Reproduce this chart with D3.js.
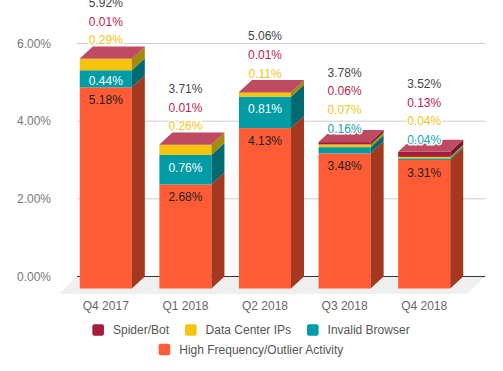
<!DOCTYPE html>
<html>
<head>
<meta charset="utf-8">
<script src="https://cdn.jsdelivr.net/npm/d3@7"></script>
<style>
  body { margin: 0; background: #fff; }
  text { font-family: "Liberation Sans", Arial, sans-serif; font-size: 12px; }
</style>
</head>
<body>
<div id="chart"></div>
<script>
let quarters       = ["Q4 2017", "Q1 2018", "Q2 2018", "Q3 2018", "Q4 2018"];
let highFrequency  = [5.18, 2.68, 4.13, 3.48, 3.31];   //spodní segment
let invalidBrowser = [0.44, 0.76, 0.81, 0.16, 0.04];
let dataCenter     = [0.29, 0.26, 0.11, 0.07, 0.04];
let spiderBot      = [0.01, 0.01, 0.01, 0.06, 0.13];   //horní segment
let totals         = [5.92, 3.71, 5.06, 3.78, 3.52];
let yTicks         = [0, 2, 4, 6];
let seriesNames    = ["High Frequency/Outlier Activity", "Invalid Browser", "Data Center IPs", "Spider/Bot"];
let legendRows     = [["Spider/Bot", "Data Center IPs", "Invalid Browser"], ["High Frequency/Outlier Activity"]];

//barvy: přední strana, bok, vrch, text popisku
let styles = {
  "High Frequency/Outlier Activity": { front: "#ff5c35", side: "#a5391f", top: "#ff8a6b", label: "#222" },
  "Invalid Browser":                 { front: "#009ca6", side: "#006a70", top: "#3fb9c1", label: "#16a3b1" },
  "Data Center IPs":                 { front: "#f5c40b", side: "#a68a0c", top: "#f8d54a", label: "#f5c518" },
  "Spider/Bot":                      { front: "#a61c3c", side: "#751430", top: "#bf4a62", label: "#bb2448" }
};

const width = 503, height = 371;
const dx = 13, dy = 12;          //hloubka 3D efektu
const gap = 18.7;                //rozestup popisků nad sloupcem

let series = [highFrequency, invalidBrowser, dataCenter, spiderBot];

let Y = d3.scaleLinear().domain([0, 6]).range([276.5, 43.5]);
let X = d3.scaleBand()
  .domain(quarters)
  .range([66, 464])
  .paddingInner(0.346)
  .paddingOuter(0.173);

let svg = d3.select("#chart").append("svg")
  .attr("width", width)
  .attr("height", height);

//podlaha
let backL = 77, backR = 485, floorDepth = 17.5;
svg.append("polygon")
  .attr("points", [[backL, Y(0)], [backR, Y(0)], [backR - 18, Y(0) + floorDepth], [backL - 18, Y(0) + floorDepth]].join(" "))
  .attr("fill", "#efefef");

//mřížka a popisky osy y
yTicks.forEach(t => {
  if (t > 0) {
    svg.append("line")
      .attr("x1", backL).attr("x2", backR)
      .attr("y1", Y(t)).attr("y2", Y(t))
      .attr("stroke", "#cccccc").attr("stroke-width", 1);
  }
  svg.append("text")
    .attr("x", 51).attr("y", Y(t))
    .attr("dy", "0.35em")
    .attr("text-anchor", "end")
    .attr("fill", "#777")
    .text(t.toFixed(2) + "%");
});
svg.append("line")
  .attr("x1", backL).attr("x2", backR)
  .attr("y1", Y(0)).attr("y2", Y(0))
  .attr("stroke", "#333").attr("stroke-width", 1);

let bw = X.bandwidth();

quarters.forEach((q, i) => {
  let x = X(q);
  let cum = 0;
  let segs = [];
  series.forEach((s, k) => {
    let st = styles[seriesNames[k]];
    let y0 = Y(cum) + dy;
    let y1 = Y(cum + s[i]) + dy;
    cum += s[i];
    segs.push({ name: seriesNames[k], y0: y0, y1: y1, v: s[i] });

    svg.append("rect")                     //přední strana
      .attr("x", x).attr("y", y1)
      .attr("width", bw).attr("height", y0 - y1)
      .attr("fill", st.front);
    svg.append("polygon")                  //bok
      .attr("points", [[x + bw, y1], [x + bw + dx, y1 - dy], [x + bw + dx, y0 - dy], [x + bw, y0]].join(" "))
      .attr("fill", st.side);
  });

  let topSeg = segs[segs.length - 1];
  let yTop = topSeg.y1;
  svg.append("polygon")                    //vrchní plocha
    .attr("points", [[x, yTop], [x + bw, yTop], [x + bw + dx, yTop - dy], [x + dx, yTop - dy]].join(" "))
    .attr("fill", styles[topSeg.name].top);

  //popisky
  let cx = x + bw / 2;
  let outside = [];
  segs.forEach((sg, k) => {
    let h = sg.y0 - sg.y1;
    if (k === 0 || (k === 1 && h >= 14)) {
      svg.append("text")
        .attr("x", cx)
        .attr("y", Math.min(sg.y1 + 12.5, (sg.y0 + sg.y1) / 2 + 1.5))
        .attr("dy", "0.35em")
        .attr("text-anchor", "middle")
        .attr("fill", k === 0 ? "#222" : "#fff")
        .text(sg.v.toFixed(2) + "%");
    } else {
      outside.push(sg);
    }
  });

  let prev = Infinity;
  outside.forEach(sg => {
    let ly = Math.min(sg.y1 - gap, prev - gap);
    prev = ly;
    svg.append("text")
      .attr("x", cx).attr("y", ly)
      .attr("dy", "0.35em")
      .attr("text-anchor", "middle")
      .attr("fill", styles[sg.name].label)
      .attr("stroke", "#fff").attr("stroke-width", 3)
      .attr("paint-order", "stroke")
      .text(sg.v.toFixed(2) + "%");
  });
  svg.append("text")
    .attr("x", cx).attr("y", prev - gap)
    .attr("dy", "0.35em")
    .attr("text-anchor", "middle")
    .attr("fill", "#444")
    .text(totals[i].toFixed(2) + "%");

  //popisek osy x
  svg.append("text")
    .attr("x", cx).attr("y", 306)
    .attr("dy", "0.35em")
    .attr("text-anchor", "middle")
    .attr("fill", "#666")
    .text(q);
});

//legenda
let rowY = [330, 349.5];
legendRows.forEach((row, r) => {
  let g = svg.append("g");
  let pos = 0;
  row.forEach((name, j) => {
    g.append("rect")
      .attr("x", pos).attr("y", rowY[r] - 5.8)
      .attr("width", 11.6).attr("height", 11.6)
      .attr("rx", 2)
      .attr("fill", styles[name].front);
    let t = g.append("text")
      .attr("x", pos + 20.6).attr("y", rowY[r])
      .attr("dy", "0.35em")
      .attr("fill", "#555")
      .text(name);
    pos += 20.6 + t.node().getComputedTextLength() + 16;
  });
  let w = pos - 16;
  g.attr("transform", "translate(" + (251 - w / 2) + ",0)");
});
</script>
</body>
</html>
